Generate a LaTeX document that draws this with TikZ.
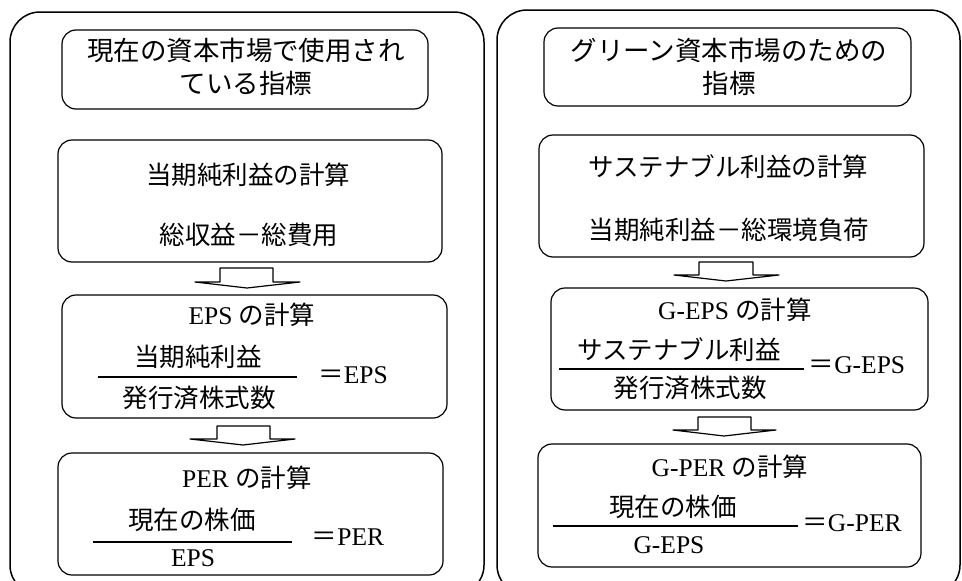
\documentclass[tikz,border=0pt]{standalone}
\usepackage{fontspec}
\setmainfont{Liberation Serif}
\newfontfamily\jp{Noto Sans CJK JP}
\begin{document}
\begin{tikzpicture}[x=1pt,y=-1pt,
  outer/.style={draw,line width=1.5pt,rounded corners=30pt,inner sep=0pt},
  box/.style={draw,line width=1.2pt,rounded corners=14pt,inner sep=0pt},
  txt/.style={inner sep=0pt,font=\fontsize{25.5}{33}\selectfont},
  jtxt/.style={inner sep=0pt,font=\jp\fontsize{25.5}{33}\selectfont},
  ttxt/.style={inner sep=0pt,align=center,font=\jp\fontsize{26.5}{33}\selectfont},
  frac/.style={line width=1.2pt},
  barrow/.style={draw,line width=1.2pt,fill=white,line join=round}]
\useasboundingbox (0,0) rectangle (962,581);
\clip (0,0) rectangle (962,581);
% outer panels
\node[outer,minimum width=474pt,minimum height=583pt] (L) at (247,303.5) {};
\node[outer,minimum width=463pt,minimum height=585pt] (R) at (728.5,302.5) {};
% left boxes
\node[box,minimum width=366pt,minimum height=79pt] (lt) at (245,69.5) {};
\node[box,minimum width=384pt,minimum height=122pt] (lb) at (250,201) {};
\node[box,minimum width=385pt,minimum height=123pt] (le) at (254.5,356.5) {};
\node[box,minimum width=385pt,minimum height=122pt] (lp) at (250.5,514) {};
% right boxes
\node[box,minimum width=367pt,minimum height=78pt] (rt) at (727.5,67) {};
\node[box,minimum width=385pt,minimum height=122pt] (rb) at (731.5,196) {};
\node[box,minimum width=377pt,minimum height=122pt] (re) at (739.5,349) {};
\node[box,minimum width=383pt,minimum height=123pt] (rp) at (729.5,505.5) {};
% block arrows
\draw[barrow] (220,268) -- (273,268) -- (273,282) -- (300,282) -- (247,288) -- (195,282) -- (220,282) -- cycle;
\draw[barrow] (217,426) -- (270,426) -- (270,439) -- (295,439) -- (243,445) -- (190,439) -- (217,439) -- cycle;
\draw[barrow] (699,262) -- (753,262) -- (753,275) -- (779,275) -- (726,281) -- (674,275) -- (699,275) -- cycle;
\draw[barrow] (698,417) -- (751,417) -- (751,430) -- (776,430) -- (724,436) -- (673,430) -- (698,430) -- cycle;
% left texts
\node[ttxt] (lt1) at (246,66.5) {現在の資本市場で使用され\\ている指標};
\node[jtxt] (lb1) at (248,175) {当期純利益の計算};
\node[jtxt] (lb2) at (249,235) {総収益－総費用};
\node[txt] (le1) at (252,315) {EPS {\jp の計算}};
\node[jtxt] (len) at (198,357) {当期純利益};
\node[jtxt] (led) at (199,398) {発行済株式数};
\node[txt] (leq) at (353,375) {{\jp ＝}EPS};
\draw[frac] (98,377) -- (297,377);
\node[txt] (lp1) at (247,478) {PER {\jp の計算}};
\node[jtxt] (lpn) at (192,520) {現在の株価};
\node[txt] (lpd) at (193,558) {EPS};
\node[txt] (lpq) at (348,537) {{\jp ＝}PER};
\draw[frac] (93,542) -- (292,542);
% right texts
\node[ttxt] (rt1) at (729,66.5) {グリーン資本市場のための\\指標};
\node[jtxt] (rb1) at (728,167) {サステナブル利益の計算};
\node[jtxt] (rb2) at (729,230) {当期純利益－総環境負荷};
\node[txt] (re1) at (735,310) {G-EPS {\jp の計算}};
\node[jtxt] (ren) at (679,350) {サステナブル利益};
\node[jtxt] (red) at (690,388) {発行済株式数};
\node[txt] (req) at (857,365) {{\jp ＝}G-EPS};
\draw[frac] (559,369) -- (804,369);
\node[txt] (rp1) at (730,467) {G-PER {\jp の計算}};
\node[jtxt] (rpn) at (673,507) {現在の株価};
\node[txt] (rpd) at (669,545) {G-EPS};
\node[txt] (rpq) at (852,523) {{\jp ＝}G-PER};
\draw[frac] (553,526) -- (798,526);
\end{tikzpicture}
\end{document}
